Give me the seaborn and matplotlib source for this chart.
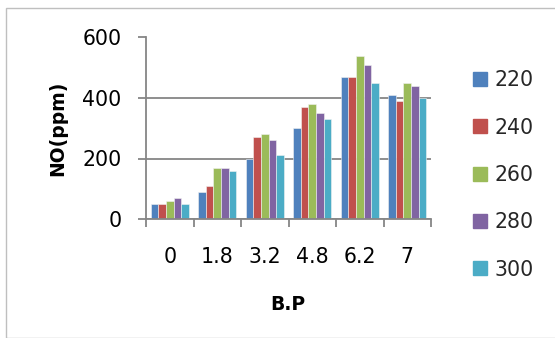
import matplotlib
matplotlib.use("Agg")
import matplotlib.pyplot as plt
import seaborn as sns
import pandas as pd
from matplotlib.lines import Line2D
from matplotlib.patches import Rectangle
from matplotlib.ticker import FixedLocator

categories = ["0", "1.8", "3.2", "4.8", "6.2", "7"]
series_names = ["220", "240", "260", "280", "300"]
s220 = [50, 90, 200, 300, 470, 410]
s240 = [50, 110, 270, 370, 470, 390]
s260 = [60, 170, 280, 380, 540, 450]
s280 = [70, 170, 260, 350, 510, 440]
s300 = [50, 160, 210, 330, 450, 400]
colors = ["#4F81BD", "#C0504D", "#9BBB59", "#8064A2", "#4BACC6"]

rows = []
for name, vals in zip(series_names, [s220, s240, s260, s280, s300]):
    for c, v in zip(categories, vals):
        rows.append({"B.P": c, "NO": v, "series": name})
df = pd.DataFrame(rows)

sns.set_theme(style="white")
plt.rcParams['font.family'] = ['DejaVu Sans']

W, H = 555, 338
fig = plt.figure(figsize=(W / 100, H / 100), dpi=100)
x0, x1, y0, y1 = 146, 431, 37.5, 219
ax = fig.add_axes([x0 / W, 1 - y1 / H, (x1 - x0) / W, (y1 - y0) / H])

sns.barplot(data=df, x="B.P", y="NO", hue="series", order=categories,
            hue_order=series_names, palette=colors, width=0.8, ax=ax,
            edgecolor="#F2F2F2", linewidth=0.4, legend=False, saturation=1)

ax.set_ylim(0, 600)
ax.set_xlim(-0.5, 5.5)
ax.set_yticks([0, 200, 400, 600])
ax.yaxis.grid(True, color="#868686", linewidth=1.3)
ax.set_axisbelow(True)
for s in ["top", "right"]:
    ax.spines[s].set_visible(False)
for s in ["left", "bottom"]:
    ax.spines[s].set_color("#868686")
    ax.spines[s].set_linewidth(1.3)

ax.tick_params(axis="y", which="major", length=6, width=1.3, color="#868686",
               labelsize=14.8, pad=11.5, left=True)
ax.tick_params(axis="x", which="major", length=0, labelsize=14.8, pad=20.5)
ax.xaxis.set_minor_locator(FixedLocator([i - 0.5 for i in range(7)]))
ax.tick_params(axis="x", which="minor", length=6, width=1.3, color="#868686",
               bottom=True, direction="out")
for lab in ax.get_xticklabels() + ax.get_yticklabels():
    lab.set_color("black")

ax.set_xlabel("")
ax.set_ylabel("")
fig.text(288 / W, 1 - 310 / H, "B.P", fontsize=13.5, fontweight="bold",
         ha="center", va="baseline", color="black")
fig.text(63.5 / W, 1 - 128 / H, "NO(ppm)", fontsize=13.5, fontweight="bold",
         ha="center", va="baseline", rotation=90, rotation_mode="anchor",
         color="black")

handles = [Line2D([0], [0], marker="s", linestyle="none", markersize=10.4,
                  markerfacecolor=c, markeredgecolor=c) for c in colors]
fig.legend(handles, series_names, loc="center left",
           bbox_to_anchor=(473 / W, 1 - 175 / H), frameon=False,
           fontsize=14.8, labelspacing=1.33, handletextpad=0.35,
           handlelength=0.7, borderaxespad=0, borderpad=0)

fig.patches.append(Rectangle((6.4 / W, 0), 1.2, 1 - 8.3 / H, transform=fig.transFigure,
                             fill=False, edgecolor="#BFBFBF", linewidth=1.0))

fig.savefig("out.png", dpi=100)
